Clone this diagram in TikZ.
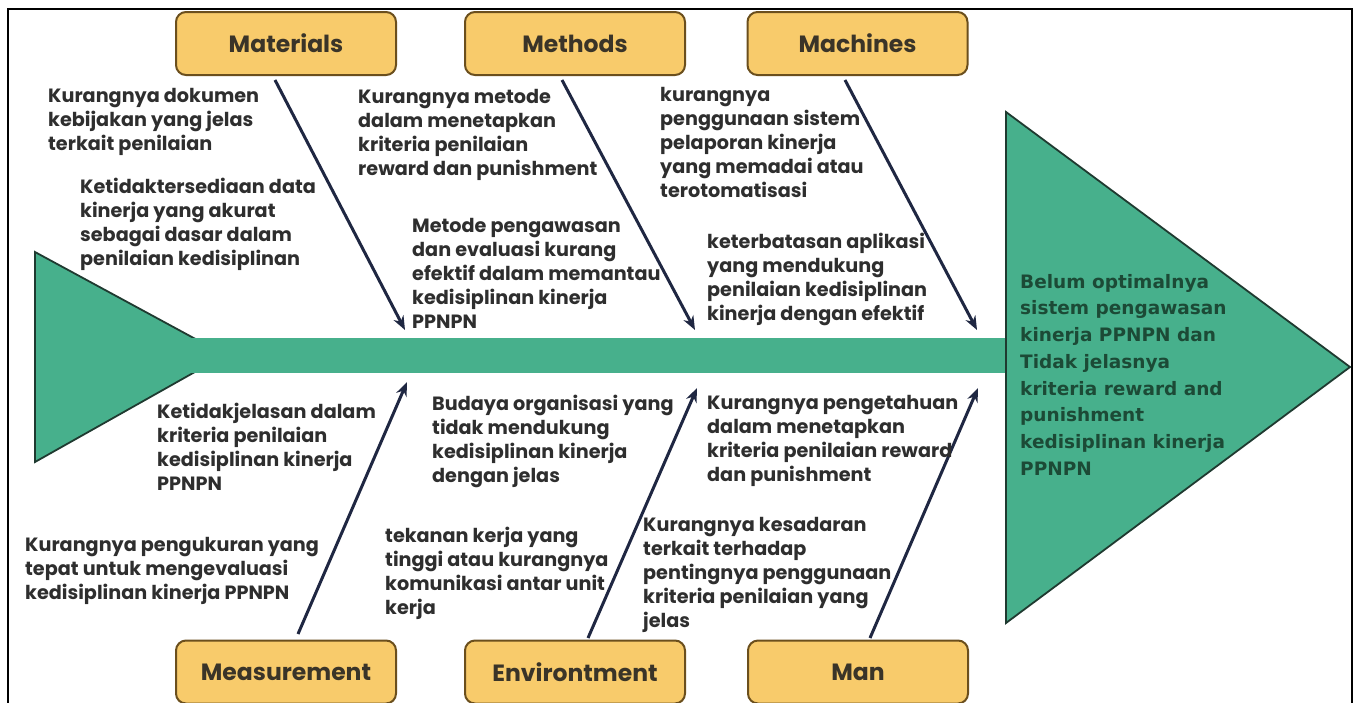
\documentclass[tikz,border=0pt]{standalone}
\usepackage{fontspec}
\setmainfont{Poppins}
\newfontfamily\headfont{DejaVu Sans}
\usetikzlibrary{arrows.meta}
\definecolor{fishgreen}{HTML}{47B08C}
\definecolor{edgegreen}{HTML}{1F3A30}
\definecolor{boxfill}{HTML}{F8CB6B}
\definecolor{boxedge}{HTML}{6B4F1D}
\definecolor{arrowcol}{HTML}{1F2742}
\definecolor{txtcol}{HTML}{2E2E2E}
\definecolor{boxtxt}{HTML}{3A3428}
\definecolor{headtxt}{HTML}{1C4A36}
\tikzset{
  catbox/.style={draw=boxedge, line width=2pt, fill=boxfill, rounded corners=10pt,
    minimum width=220pt, minimum height=63pt, inner sep=0pt,
    font=\bfseries\fontsize{23.5}{26}\selectfont, text=boxtxt},
  cause/.style={anchor=north west, inner sep=0pt, align=left, text=txtcol,
    font=\bfseries\fontsize{19.2}{24}\selectfont},
  headtext/.style={anchor=north west, inner sep=0pt, align=left, text=headtxt,
    font=\headfont\bfseries\fontsize{18.5}{26.7}\selectfont},
  bone/.style={draw=arrowcol, line width=3pt, -{Stealth[length=14pt,width=11pt]}},
}
\begin{document}
\begin{tikzpicture}[x=1pt,y=-1pt]
\useasboundingbox (0,0) rectangle (1356,702);
\fill[white] (0,0) rectangle (1356,702);
% frame (open at bottom)
\draw[black, line width=2pt] (8,706) -- (8,9) -- (1352,9) -- (1352,706);
% tail
\draw[fill=fishgreen, draw=edgegreen, line width=1.8pt] (35,252) -- (225,355) -- (35,462) -- cycle;
% spine
\fill[fishgreen] (190,338) rectangle (1007,373);
% head
\draw[fill=fishgreen, draw=edgegreen, line width=1.8pt] (1006,112) -- (1350,367) -- (1006,623) -- cycle;
% category boxes
\node[catbox] (mat) at (286,43.5) {Materials};
\node[catbox] (met) at (575,43.5) {Methods};
\node[catbox] (mac) at (857.5,43.5) {Machines};
\node[catbox] (mea) at (286,672) {Measurement};
\node[catbox] (env) at (575,672) {Environtment};
\node[catbox] (man) at (858,672) {Man};
% arrow end points
\coordinate (a1s) at (275,80);  \coordinate (a1e) at (405,330);
\coordinate (a2s) at (562,80);  \coordinate (a2e) at (695,330);
\coordinate (a3s) at (845,80);  \coordinate (a3e) at (977,330);
\coordinate (b1s) at (298,634); \coordinate (b1e) at (407,382);
\coordinate (b2s) at (588,638); \coordinate (b2e) at (697,388);
\coordinate (b3s) at (870,638); \coordinate (b3e) at (978,388);
\draw[bone] (a1s) -- (a1e);
\draw[bone] (a2s) -- (a2e);
\draw[bone] (a3s) -- (a3e);
\draw[bone] (b1s) -- (b1e);
\draw[bone] (b2s) -- (b2e);
\draw[bone] (b3s) -- (b3e);
% causes
\node[cause] (t1) at (48,88) {Kurangnya dokumen\\kebijakan yang jelas\\terkait penilaian};
\node[cause] (t2) at (80,178) {Ketidaktersediaan data\\kinerja yang akurat\\sebagai dasar dalam\\penilaian kedisiplinan};
\node[cause] (t3) at (358,89) {Kurangnya metode\\dalam menetapkan\\kriteria penilaian\\reward dan punishment};
\node[cause] (t4) at (412,218) {Metode pengawasan\\dan evaluasi kurang\\efektif dalam memantau\\kedisiplinan kinerja\\PPNPN};
\node[cause] (t5) at (660,87) {kurangnya\\penggunaan sistem\\pelaporan kinerja\\yang memadai atau\\terotomatisasi};
\node[cause] (t6) at (707,233) {keterbatasan aplikasi\\yang mendukung\\penilaian kedisiplinan\\kinerja dengan efektif};
\node[cause] (t7) at (157,403) {Ketidakjelasan dalam\\kriteria penilaian\\kedisiplinan kinerja\\PPNPN};
\node[cause] (t8) at (25,537) {Kurangnya pengukuran yang\\tepat untuk mengevaluasi\\kedisiplinan kinerja PPNPN};
\node[cause] (t9) at (432,395) {Budaya organisasi yang\\tidak mendukung\\kedisiplinan kinerja\\dengan jelas};
\node[cause] (t10) at (385,527) {tekanan kerja yang\\tinggi atau kurangnya\\komunikasi antar unit\\kerja};
\node[cause] (t11) at (707,395) {Kurangnya pengetahuan\\dalam menetapkan\\kriteria penilaian reward\\dan punishment};
\node[cause] (t12) at (643,517) {Kurangnya kesadaran\\terkait terhadap\\pentingnya penggunaan\\kriteria penilaian yang\\jelas};
% effect
\node[headtext] (hd) at (1020,274) {Belum optimalnya\\sistem pengawasan\\kinerja PPNPN dan\\Tidak jelasnya\\kriteria reward and\\punishment\\kedisiplinan kinerja\\PPNPN};
\end{tikzpicture}
\end{document}
